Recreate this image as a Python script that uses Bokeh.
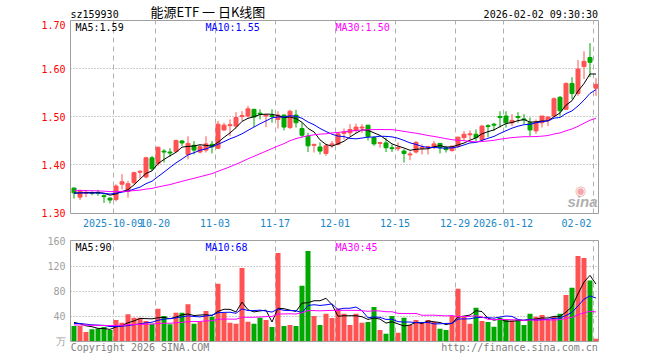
import numpy as np
import pandas as pd
from bokeh.plotting import figure
from bokeh.layouts import column
from bokeh.models import ColumnDataSource, FixedTicker, NumeralTickFormatter, Label, Range1d
from bokeh.embed import file_html
from bokeh.resources import INLINE

# ---------------- data ----------------
opens = [1.352, 1.333, 1.341, 1.342, 1.343, 1.336, 1.331, 1.328, 1.360, 1.345,
         1.363, 1.385, 1.375, 1.415, 1.403, 1.429, 1.427, 1.428, 1.450, 1.422,
         1.441, 1.427, 1.431, 1.443, 1.435, 1.473, 1.482, 1.481, 1.501, 1.502,
         1.516, 1.508, 1.502, 1.503, 1.495, 1.504, 1.478, 1.504, 1.476, 1.460,
         1.441, 1.4375, 1.424, 1.442, 1.443, 1.466, 1.467, 1.472, 1.477, 1.483,
         1.457, 1.445, 1.446, 1.436, 1.434, 1.429, 1.421, 1.427, 1.435, 1.437,
         1.437, 1.445, 1.436, 1.430, 1.439, 1.457, 1.463, 1.464, 1.453, 1.482,
         1.485, 1.501, 1.502, 1.488, 1.501, 1.496, 1.488, 1.471, 1.488, 1.493,
         1.502, 1.541, 1.516, 1.570, 1.549, 1.605, 1.624, 1.560]
highs = [1.353, 1.349, 1.348, 1.345, 1.348, 1.339, 1.333, 1.360, 1.381, 1.367,
         1.386, 1.389, 1.417, 1.419, 1.438, 1.433, 1.435, 1.453, 1.452, 1.460,
         1.450, 1.443, 1.460, 1.450, 1.492, 1.488, 1.495, 1.510, 1.512, 1.523,
         1.517, 1.516, 1.506, 1.516, 1.512, 1.505, 1.515, 1.515, 1.488, 1.467,
         1.444, 1.447, 1.444, 1.450, 1.467, 1.476, 1.485, 1.486, 1.485, 1.483,
         1.460, 1.448, 1.457, 1.443, 1.447, 1.433, 1.428, 1.450, 1.443, 1.440,
         1.450, 1.445, 1.440, 1.441, 1.459, 1.471, 1.472, 1.474, 1.483, 1.485,
         1.488, 1.512, 1.512, 1.506, 1.510, 1.506, 1.499, 1.495, 1.502, 1.500,
         1.541, 1.544, 1.572, 1.583, 1.619, 1.637, 1.654, 1.581]
lows = [1.330, 1.327, 1.333, 1.337, 1.336, 1.321, 1.320, 1.324, 1.349, 1.332,
        1.360, 1.372, 1.372, 1.388, 1.398, 1.405, 1.417, 1.426, 1.440, 1.412,
        1.422, 1.424, 1.426, 1.424, 1.433, 1.471, 1.460, 1.476, 1.492, 1.499,
        1.479, 1.495, 1.479, 1.488, 1.476, 1.472, 1.475, 1.478, 1.457, 1.427,
        1.426, 1.422, 1.419, 1.436, 1.441, 1.453, 1.460, 1.467, 1.467, 1.451,
        1.440, 1.436, 1.427, 1.427, 1.429, 1.405, 1.410, 1.424, 1.422, 1.422,
        1.433, 1.424, 1.426, 1.428, 1.436, 1.450, 1.453, 1.450, 1.450, 1.458,
        1.471, 1.478, 1.478, 1.481, 1.488, 1.485, 1.460, 1.465, 1.478, 1.481,
        1.500, 1.502, 1.516, 1.537, 1.544, 1.579, 1.583, 1.544]
closes = [1.342, 1.346, 1.343, 1.341, 1.341, 1.334, 1.327, 1.356, 1.365, 1.361,
          1.384, 1.387, 1.415, 1.392, 1.437, 1.427, 1.425, 1.451, 1.446, 1.445,
          1.431, 1.438, 1.444, 1.438, 1.485, 1.483, 1.484, 1.499, 1.503, 1.517,
          1.500, 1.506, 1.504, 1.501, 1.504, 1.479, 1.512, 1.488, 1.462, 1.440,
          1.443, 1.429, 1.440, 1.444, 1.465, 1.469, 1.474, 1.479, 1.479, 1.459,
          1.444, 1.447, 1.436, 1.434, 1.436, 1.424, 1.423, 1.447, 1.437, 1.438,
          1.444, 1.436, 1.432, 1.439, 1.458, 1.464, 1.465, 1.457, 1.481, 1.480,
          1.483, 1.499, 1.488, 1.493, 1.499, 1.494, 1.473, 1.490, 1.502, 1.500,
          1.538, 1.513, 1.570, 1.549, 1.600, 1.616, 1.614, 1.568]
volumes = [24, 24, 14.4, 18.7, 20, 22.4, 17.6, 33.6, 29.3, 43,
           37.3, 37.3, 32, 27.7, 51.7, 40, 26.7, 45.3, 45.3, 58.7,
           27.7, 30.4, 48, 39, 91.7, 45, 29.3, 27.7, 117, 31,
           27.7, 37.3, 33.6, 22.4, 141, 24, 25.6, 24, 88.5, 144,
           40, 25.6, 43.7, 37, 52, 43.7, 25.6, 43.7, 29.3, 30.4,
           54.4, 17.6, 11.7, 40, 13.3, 37.3, 25.6, 33.6, 30.4, 33.6,
           30.4, 19.7, 17.6, 40, 83.7, 38.4, 27.7, 53.3, 32, 30.4,
           23, 37.3, 34.7, 33, 34.7, 25.6, 43.7, 39, 41.6, 33.6,
           39, 43.7, 73.6, 85.3, 136, 133, 97, 3.7]
# estimated sessions before the visible window (needed for the moving averages)
prior_close = [1.352, 1.355, 1.350, 1.348, 1.353, 1.357, 1.354, 1.350, 1.347, 1.351,
               1.356, 1.352, 1.349, 1.346, 1.350, 1.353, 1.348, 1.344, 1.347, 1.343,
               1.340, 1.345, 1.342, 1.338, 1.341, 1.344, 1.339, 1.342, 1.340]
prior_volume = [22, 25, 28, 21, 24, 26, 23, 27, 20, 24, 29, 22, 25, 23, 26,
                28, 21, 24, 27, 25, 22, 26, 30, 24, 28, 35, 31, 26, 33]

date_ticks = [7, 14, 24, 34, 44, 54, 64, 72, 87]
date_labels = ["2025-10-09", "10-20", "11-03", "11-17", "12-01", "12-15",
               "12-29", "2026-01-12", "02-02"]
price_ticks = [1.30, 1.40, 1.50, 1.60, 1.70]
vol_ticks = [0, 40, 80, 120, 160]
vol_tick_labels = {0: "万"}
ma_labels = ["MA5:1.59", "MA10:1.55", "MA30:1.50"]
vol_ma_labels = ["MA5:90", "MA10:68", "MA30:45"]
code_label = "sz159930"
title_text = "能源ETF 一 日K线图"
time_label = "2026-02-02 09:30:30"
footer_texts = ["Copyright 2026 SINA.COM", "http://finance.sina.com.cn"]

# ---------------- derived ----------------
RED = "#ff5252"
GREEN = "#00a800"
MA_COLORS = ["#000000", "#0000ff", "#ff00ff"]
MONO = "DejaVu Sans Mono"

n = len(closes)
xs = np.arange(n) + 0.5
o = np.array(opens); c = np.array(closes)
colors = [RED if cc >= oo else GREEN for oo, cc in zip(opens, closes)]
cs = pd.Series(prior_close + closes, dtype=float)
vs = pd.Series(prior_volume + volumes, dtype=float)
data = dict(x=xs, high=highs, low=lows, top=np.maximum(o, c), bot=np.minimum(o, c),
            color=colors, vol=volumes)
for w in (5, 10, 30):
    data[f"ma{w}"] = cs.rolling(w).mean().to_numpy()[-n:]
    data[f"vma{w}"] = vs.rolling(w).mean().to_numpy()[-n:]
src = ColumnDataSource(data)

# layout helpers (page pixel -> data units)
W = 655
LEFT = 70
FRAME_W = 528
RIGHT = W - LEFT - FRAME_W
X0 = 70.5
PXU = 6.0
TXT_DY = 3  # alphabetic-baseline correction
def fx(X):
    return (X - X0) / PXU
P_TOP = 1.70104
P_PX = 0.4 / 192
def fy(Y):
    return P_TOP - (Y - TXT_DY - 20) * P_PX
V_TOP = 160.8
V_PX = 1.6
def gy(Y):
    return V_TOP - (Y - TXT_DY - 240) * V_PX

xr = Range1d(fx(LEFT), fx(LEFT) + FRAME_W / PXU)

def style(p):
    p.outline_line_color = "#a0a0a0"
    p.outline_line_width = 1
    p.background_fill_color = "white"
    p.border_fill_color = "white"
    for ax in (p.xaxis, p.yaxis):
        ax.axis_line_color = None
        ax.major_tick_line_color = None
        ax.minor_tick_line_color = None
        ax.major_tick_out = 0
        ax.major_tick_in = 0
        ax.minor_tick_out = 0
        ax.minor_tick_in = 0
        ax.major_label_text_font = MONO
        ax.major_label_text_font_size = "10px"
    p.xgrid.ticker = FixedTicker(ticks=date_ticks)
    p.xgrid.grid_line_color = "#b0b0b0"
    p.xgrid.grid_line_dash = "5 4"
    p.ygrid.grid_line_color = "#9a9a9a"
    p.ygrid.grid_line_dash = "1 2"

# ---------------- header (frame aligned with the charts) ----------------
HDR_H = 20
hdr = figure(frame_width=FRAME_W, frame_height=HDR_H, x_range=Range1d(LEFT, LEFT + FRAME_W),
             y_range=Range1d(HDR_H, 0),
             output_backend="svg", toolbar_location=None, title=None,
             x_axis_location=None, y_axis_location=None,
             min_border_left=LEFT, min_border_right=RIGHT, min_border_top=0, min_border_bottom=0)
hdr.grid.visible = False
hdr.outline_line_color = None
hdr.background_fill_color = "white"
hdr.border_fill_color = "white"
HB = 17 - TXT_DY
hdr.add_layout(Label(x=70, y=HB, text=code_label, text_color="#000000",
                     text_font=MONO, text_font_size="10px", text_baseline="alphabetic"))
hdr.add_layout(Label(x=150, y=10.5, text=title_text, text_color="#000000",
                     text_font="Noto Sans CJK SC", text_font_size="13px",
                     text_baseline="middle"))
hdr.add_layout(Label(x=597.5, y=HB, text=time_label, text_color="#000000",
                     text_font=MONO, text_font_size="10px", text_align="right",
                     text_baseline="alphabetic"))

# ---------------- price figure ----------------
p1 = figure(frame_width=FRAME_W, frame_height=193, x_range=xr,
            y_range=Range1d(P_TOP - 193 * P_PX, P_TOP),
            output_backend="svg", toolbar_location=None, title=None,
            min_border_left=LEFT, min_border_right=RIGHT,
            min_border_top=0, min_border_bottom=19)
style(p1)
label_ticks = [float(t) for t in date_ticks[:-1]] + [84.25]
p1.xaxis.ticker = FixedTicker(ticks=label_ticks)
p1.xaxis.major_label_overrides = {t: s for t, s in zip(label_ticks, date_labels)}
p1.xaxis.major_label_text_color = "#1a86c8"
p1.xaxis.major_label_standoff = 5
p1.yaxis.ticker = FixedTicker(ticks=price_ticks)
p1.yaxis.formatter = NumeralTickFormatter(format="0.00")
p1.yaxis.major_label_text_color = "#ff0000"
p1.yaxis.major_label_standoff = 5
p1.ygrid.ticker = FixedTicker(ticks=price_ticks[1:-1])

p1.segment(x0="x", y0="high", x1="x", y1="low", color="color", line_width=1, source=src)
p1.vbar(x="x", width=4 / 6, top="top", bottom="bot", fill_color="color",
        line_color="color", line_width=1, source=src)
for w, col in zip((5, 10, 30), MA_COLORS):
    p1.line("x", f"ma{w}", color=col, line_width=1, source=src)

for txt, X, col in zip(ma_labels, (75, 205, 335), MA_COLORS):
    p1.add_layout(Label(x=fx(X), y=fy(29.5), text=txt, text_color=col, text_font=MONO,
                        text_font_size="10px", text_baseline="alphabetic"))
# sina watermark
p1.add_layout(Label(x=fx(580), y=fy(193), text="◉", text_color="#f2a8a8",
                    text_font="DejaVu Sans", text_font_size="13px", text_align="center",
                    text_baseline="alphabetic"))
p1.add_layout(Label(x=fx(597), y=fy(204), text="sina", text_color="#b0b0b0",
                    text_font="Liberation Sans", text_font_size="15px",
                    text_font_style="bold italic", text_align="right",
                    text_baseline="alphabetic"))

# ---------------- volume figure ----------------
p2 = figure(frame_width=FRAME_W, frame_height=101, x_range=xr,
            y_range=Range1d(V_TOP - 101 * V_PX, V_TOP),
            output_backend="svg", toolbar_location=None, title=None,
            min_border_left=LEFT, min_border_right=RIGHT,
            min_border_top=8, min_border_bottom=17)
style(p2)
footer_ticks = [11.5, 74.75]
p2.xaxis.ticker = FixedTicker(ticks=footer_ticks)
p2.xaxis.major_label_overrides = {t: s for t, s in zip(footer_ticks, footer_texts)}
p2.xaxis.major_label_text_color = "#808080"
p2.xaxis.major_label_standoff = 0
p2.yaxis.ticker = FixedTicker(ticks=vol_ticks)
p2.yaxis.major_label_overrides = vol_tick_labels
p2.yaxis.major_label_text_color = "#a0a0a0"
p2.yaxis.major_label_standoff = 5
p2.ygrid.ticker = FixedTicker(ticks=vol_ticks[1:-1])

p2.vbar(x="x", width=5 / 6, top="vol", bottom=0, fill_color="color",
        line_color=None, source=src)
for w, col in zip((5, 10, 30), MA_COLORS):
    p2.line("x", f"vma{w}", color=col, line_width=1, source=src)

for txt, X, col in zip(vol_ma_labels, (75, 205, 335), MA_COLORS):
    p2.add_layout(Label(x=fx(X), y=gy(250), text=txt, text_color=col, text_font=MONO,
                        text_font_size="10px", text_baseline="alphabetic"))

layout = column(hdr, p1, p2)
open("out.html", "w").write(file_html(layout, INLINE))
